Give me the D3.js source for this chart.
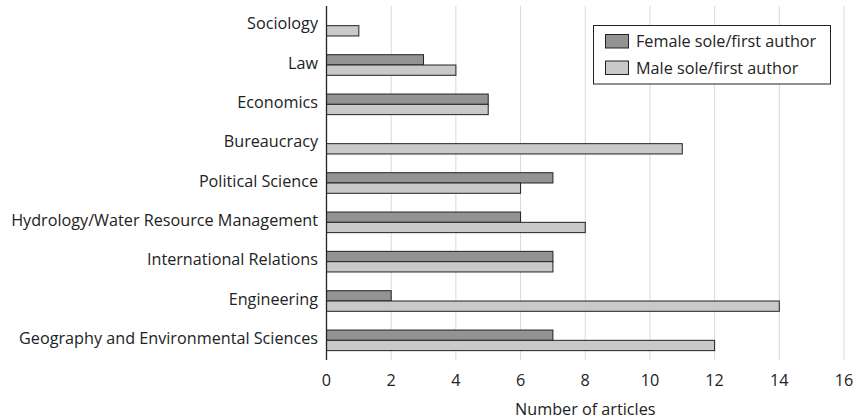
<!DOCTYPE html>
<html><head><meta charset="utf-8">
<script src="https://cdn.jsdelivr.net/npm/d3@7"></script>
<style>body{margin:0;background:#fff}svg{display:block}text{font-family:"Open Sans",Lato,sans-serif;fill:#222}</style>
</head><body><div id="c"></div>
<script>
const categories = ["Sociology","Law","Economics","Bureaucracy","Political Science","Hydrology/Water Resource Management","International Relations","Engineering","Geography and Environmental Sciences"];
const femaleValues = [0,3,5,0,7,6,7,2,7];
const maleValues = [1,4,5,11,6,8,7,14,12];
const seriesNames = ["Female sole/first author","Male sole/first author"];
const xTicks = [0,2,4,6,8,10,12,14,16];
const xTitle = "Number of articles";

const W=858,H=420,FS=16.2;
const svg=d3.select("#c").append("svg").attr("width",W).attr("height",H);
const x=d3.scaleLinear().domain([0,16]).range([326.5,844]);
const y=d3.scaleBand().domain(categories).range([6,360]).paddingInner(0).paddingOuter(0);
const colors=["#939393","#c9c9c9"];
const barH=10.3;

svg.append("g").selectAll("line").data(xTicks.slice(1)).join("line")
  .attr("x1",d=>x(d)).attr("x2",d=>x(d)).attr("y1",6).attr("y2",360)
  .attr("stroke","#d9d9d9").attr("stroke-width",1);

const rows=[];
categories.forEach((c,i)=>{
  rows.push({c,s:0,v:femaleValues[i]});
  rows.push({c,s:1,v:maleValues[i]});
});
svg.append("g").selectAll("rect").data(rows.filter(r=>r.v>0)).join("rect")
  .attr("x",x(0)).attr("width",d=>x(d.v)-x(0))
  .attr("y",d=>y(d.c)+y.bandwidth()/2+(d.s===0?-barH:0)).attr("height",barH)
  .attr("fill",d=>colors[d.s]).attr("stroke","#222").attr("stroke-width",1);

svg.append("line").attr("x1",x(0)).attr("x2",x(0)).attr("y1",6).attr("y2",360).attr("stroke","#222").attr("stroke-width",1.3);

svg.append("g").selectAll("text").data(categories).join("text")
  .attr("x",318).attr("y",d=>y(d)+y.bandwidth()/2-2).attr("dy","0.35em")
  .attr("text-anchor","end").attr("font-size",FS).text(d=>d);

svg.append("g").selectAll("text").data(xTicks).join("text")
  .attr("x",d=>x(d)).attr("y",380).attr("dy","0.35em")
  .attr("text-anchor","middle").attr("font-size",FS).text(d=>d);

svg.append("text").attr("x",(x(0)+x(16))/2).attr("y",409).attr("dy","0.35em")
  .attr("text-anchor","middle").attr("font-size",FS).text(xTitle);

const lg=svg.append("g");
lg.append("rect").attr("x",593.5).attr("y",25.5).attr("width",237).attr("height",58.5)
  .attr("fill","#fff").attr("stroke","#222").attr("stroke-width",1);
seriesNames.forEach((n,i)=>{
  lg.append("rect").attr("x",605.5).attr("y",34.5+i*26.5).attr("width",23).attr("height",13.5)
    .attr("fill",colors[i]).attr("stroke","#222");
  lg.append("text").attr("x",636).attr("y",41.5+i*26.5).attr("dy","0.35em").attr("font-size",FS).text(n);
});
</script></body></html>
